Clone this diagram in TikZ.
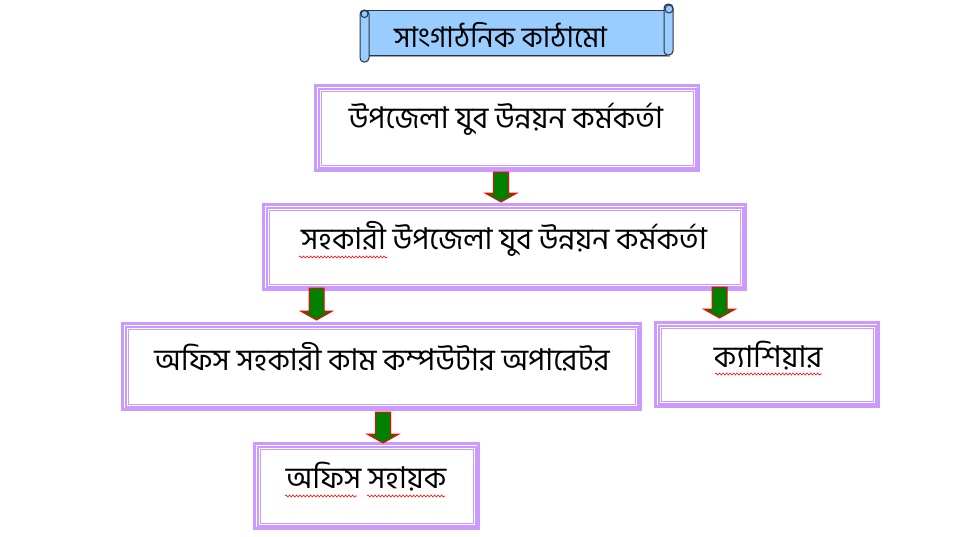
\documentclass[tikz,border=0pt]{standalone}
\usepackage{fontspec}
\newfontfamily\bn[Script=Bengali]{Hind Siliguri}
\usetikzlibrary{decorations.pathmorphing}
\definecolor{bord}{HTML}{CC99FF}
\definecolor{scrollblue}{HTML}{99CCFF}
\definecolor{scrollline}{HTML}{2A3442}
\definecolor{arrgreen}{HTML}{008000}
\tikzset{
  box/.style={draw=bord, line width=3, fill=white, inner sep=0},
  lbl/.style={font=\bn\fontsize{30}{34}\selectfont, inner sep=0, text=black},
  ttl/.style={font=\bn\fontsize{28.5}{32}\selectfont, inner sep=0, text=black},
  arr/.style={fill=arrgreen, draw=red, line width=1, line join=miter},
  squig/.style={draw=red, line width=0.6, decorate, decoration={snake, amplitude=1, segment length=3.5}},
  scroll/.style={fill=scrollblue, draw=scrollline, line width=1}
}
\newcommand\blockarrow[3]{%
  \draw[arr] (#1-7.5,#2) -- (#1+7.5,#2) -- (#1+7.5,#3-9) -- (#1+16,#3-9) -- (#1,#3) -- (#1-16,#3-9) -- (#1-7.5,#3-9) -- cycle;}
\begin{document}
\begin{tikzpicture}[x=1pt,y=-1pt]
\useasboundingbox[fill=white] (0,0) rectangle (954,536);
% scroll banner
\fill[gray!70] (368,12) rectangle (670,57);
\draw[scroll] (366,10) -- (666,10) -- (666,55) -- (366,55) -- cycle;
\draw[scroll, rounded corners=4] (664,12) -- (664,4) -- (673,4) -- (673,55) -- (664,55) -- cycle;
\draw[scroll] (669,9) circle (4);
\draw[scroll, rounded corners=4] (360,10) rectangle (369,62);
\draw[scroll] (364.5,14) circle (3.5);
\node[ttl] (t0) at (500.5,35) {সাংগাঠনিক কাঠামো};
% boxes
\node[box, minimum width=383, minimum height=85] (b1) at (507,128) {};
\node[box, minimum width=482, minimum height=85] (b2) at (504.5,247) {};
\node[box, minimum width=518, minimum height=86] (b3) at (381.5,366.5) {};
\node[box, minimum width=223, minimum height=84] (b4) at (767,364.5) {};
\node[box, minimum width=224, minimum height=85] (b5) at (366.5,486) {};
\foreach \n in {b1,b2,b3,b4,b5}{
  \draw[bord, line width=2] ([shift={(4.5,4.5)}]\n.north west) rectangle ([shift={(-4.5,-4.5)}]\n.south east);
  \draw[bord, line width=1] ([shift={(7,7)}]\n.north west) rectangle ([shift={(-7,-7)}]\n.south east);
}
\node[lbl] (t1) at (506,119) {উপজেলা যুব উন্নয়ন কর্মকর্তা};
\node[lbl] (t2) at (504,239) {সহকারী উপজেলা যুব উন্নয়ন কর্মকর্তা};
\node[lbl] (t3) at (382,357) {অফিস সহকারী কাম কম্পউটার অপারেটর};
\node[lbl] (t4) at (768,356) {ক্যাশিয়ার};
\node[lbl] (t5) at (366,477) {অফিস সহায়ক};
% spell-check underlines
\draw[squig] (299,257) -- (387,257);
\draw[squig] (715,374) -- (822,374);
\draw[squig] (285,496) -- (357,496);
\draw[squig] (367,496) -- (445,496);
% arrows
\blockarrow{501}{172}{202}
\blockarrow{316.5}{288}{320}
\blockarrow{719.5}{287}{318}
\blockarrow{383}{412}{443}
\end{tikzpicture}
\end{document}
